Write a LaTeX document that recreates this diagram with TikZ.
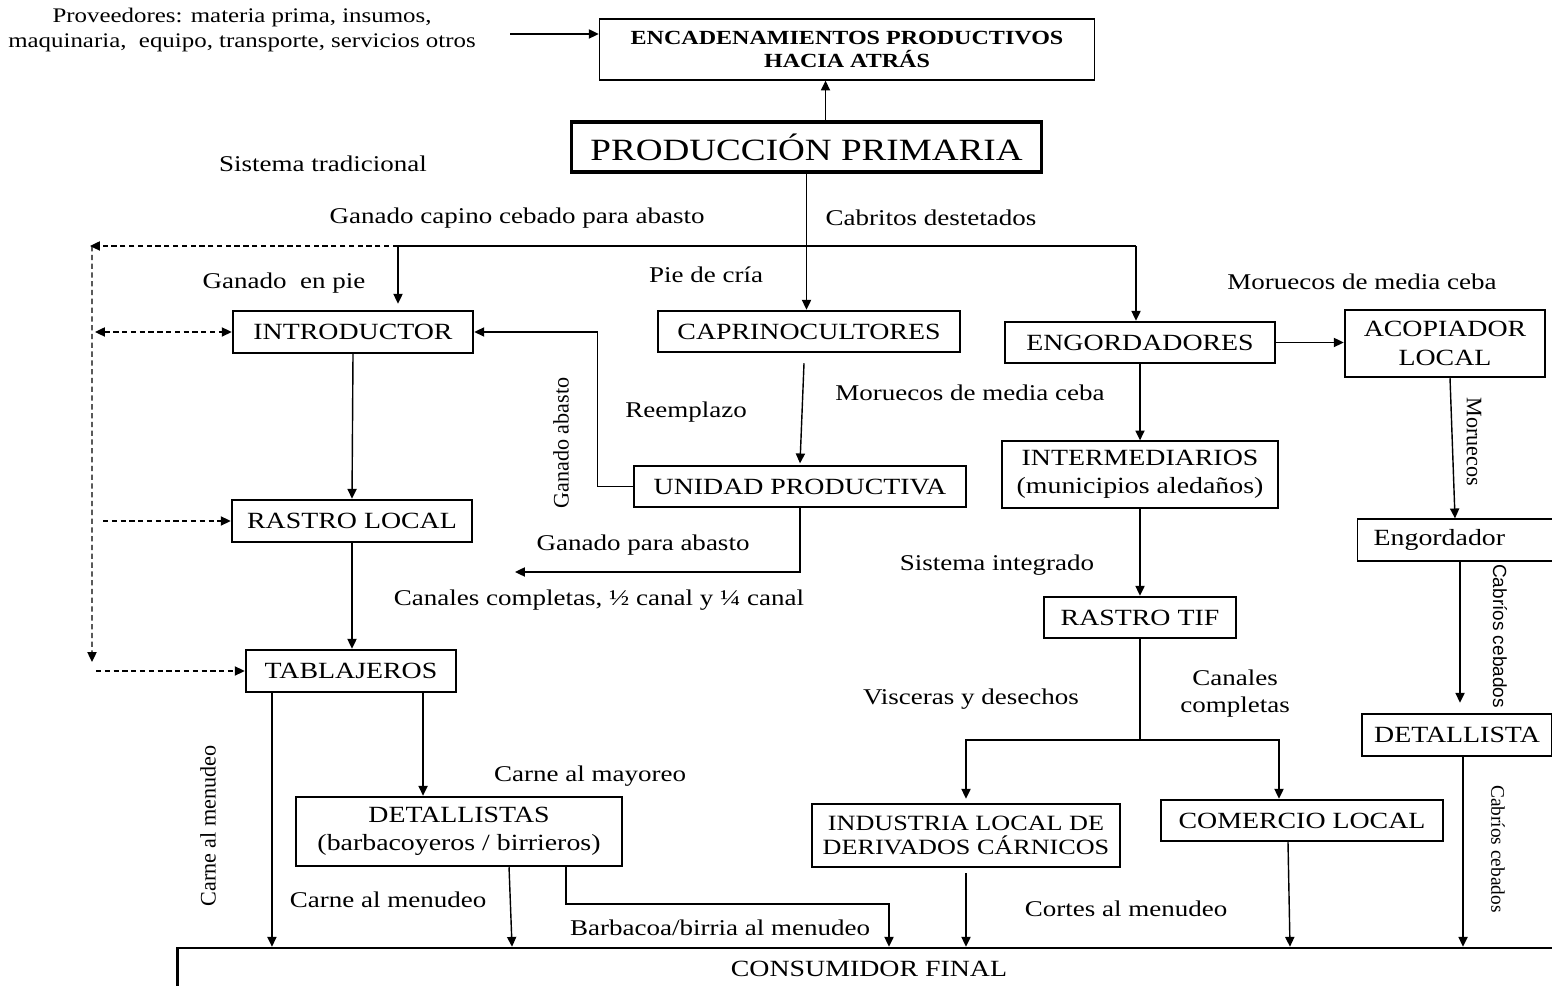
\documentclass[tikz,border=0pt]{standalone}
\usepackage{fontspec}
\setmainfont{Liberation Serif}[FakeStretch=1.2]
\newfontfamily\rotserif{Liberation Serif}
\newfontfamily\rotsans{Liberation Sans}
\usetikzlibrary{arrows.meta}

\begin{document}
\begin{tikzpicture}[x=0.01cm, y=-0.01cm,
        >={Triangle[length=2.8pt, width=2.6pt]},
        box/.style={draw, line width=0.7pt, inner sep=0pt, align=center, font=\fontsize{6.6}{8}\selectfont},
        thinbox/.style={box, line width=0.35pt},
        lbl/.style={inner sep=0pt, align=center, font=\fontsize{6.4}{7.7}\selectfont},
        vlbl/.style={inner sep=0pt, font=\rotserif\fontsize{6.3}{7.5}\selectfont},
        arr/.style={->, line width=0.4pt},
        darr/.style={arr, dash pattern=on 1.5pt off 1pt}]
        \useasboundingbox (0,0) rectangle (1552,986);
        \clip (0,0) rectangle (1552,986);

        \node[thinbox, minimum width=4.95cm, minimum height=0.61cm, font=\bfseries\fontsize{5.7}{6.6}\selectfont] (enc) at (847,49.5) {ENCADENAMIENTOS PRODUCTIVOS\\HACIA ATRÁS};
        \node[lbl, font=\fontsize{5.9}{7.1}\selectfont] (prov) at (242,30.5) {Proveedores: materia prima, insumos,\\maquinaria,\ \ equipo, transporte, servicios otros};
        \node[box, line width=0.9pt, minimum width=4.69cm, minimum height=0.50cm, font=\fontsize{8.8}{10}\selectfont] (pp) at (806.5,147) {PRODUCCIÓN PRIMARIA};

        \node[box, minimum width=2.40cm, minimum height=0.42cm] (intro) at (353,332) {INTRODUCTOR};
        \node[box, minimum width=3.02cm, minimum height=0.41cm] (caprino) at (809,331.5) {CAPRINOCULTORES};
        \node[box, minimum width=2.70cm, minimum height=0.41cm] (engord) at (1140,342.5) {ENGORDADORES};
        \node[box, minimum width=2.00cm, minimum height=0.67cm] (acop) at (1445,343.5) {ACOPIADOR\\LOCAL};
        \node[box, minimum width=2.40cm, minimum height=0.42cm] (rlocal) at (352,521) {RASTRO LOCAL};
        \node[box, minimum width=2.10cm, minimum height=0.42cm] (tabl) at (351,671) {TABLAJEROS};
        \node[thinbox, minimum width=3.32cm, minimum height=0.41cm] (unidad) at (800,486.5) {UNIDAD PRODUCTIVA};
        \node[thinbox, minimum width=2.76cm, minimum height=0.67cm] (interm) at (1140,474.5) {INTERMEDIARIOS\\(municipios aledaños)};
        \node[box, minimum width=1.92cm, minimum height=0.41cm] (rtif) at (1140,617.5) {RASTRO TIF};
        \node[thinbox, anchor=west, minimum width=2.02cm, minimum height=0.42cm, text width=1.70cm, inner xsep=0.16cm, align=left] (engr) at (1357,540) {Engordador};
        \node[box, minimum width=1.90cm, minimum height=0.42cm] (detallista) at (1457,735) {DETALLISTA};
        \node[box, minimum width=3.26cm, minimum height=0.69cm] (detallistas) at (459,831.5) {DETALLISTAS\\(barbacoyeros / birrieros)};
        \node[box, minimum width=3.08cm, minimum height=0.63cm, font=\fontsize{6.2}{6.8}\selectfont] (industria) at (966,835.5) {INDUSTRIA LOCAL DE\\DERIVADOS CÁRNICOS};
        \node[box, minimum width=2.82cm, minimum height=0.41cm] (comercio) at (1302,820.5) {COMERCIO LOCAL};
        \node[box, minimum width=13.82cm, minimum height=0.42cm] (consumer) at (869,969) {CONSUMIDOR FINAL};

        \node[lbl] (sistema) at (323,164) {Sistema tradicional};
        \node[lbl] (gcapino) at (517,218) {Ganado capino cebado para abasto};
        \node[lbl] (cabritos) at (931,218) {Cabritos destetados};
        \node[lbl] (gpie) at (284,283) {Ganado\ \ en pie};
        \node[lbl] (piecria) at (706,275) {Pie de cría};
        \node[lbl] (moruecosA) at (1362,282) {Moruecos de media ceba};
        \node[lbl] (moruecosB) at (970,393) {Moruecos de media ceba};
        \node[lbl] (reemplazo) at (686,412) {Reemplazo};
        \node[vlbl, rotate=90] (gabasto) at (561,443) {Ganado abasto};
        \node[lbl] (gpara) at (643,545) {Ganado para abasto};
        \node[lbl] (canales) at (599,600) {Canales completas, ½ canal y ¼ canal};
        \node[lbl] (sisint) at (997,565) {Sistema integrado};
        \node[lbl] (visceras) at (971,699) {Visceras y desechos};
        \node[lbl] (canalesc) at (1235,694) {Canales\\completas};
        \node[vlbl, rotate=-90] (moruecosC) at (1474,442) {Moruecos};
        \node[vlbl, rotate=-90, font=\rotsans\fontsize{5.4}{6.5}\selectfont] (cabriosA) at (1500,636) {Cabríos cebados};
        \node[vlbl, rotate=-90, font=\rotserif\fontsize{5.5}{6.5}\selectfont] (cabriosB) at (1498,849) {Cabríos cebados};
        \node[vlbl, rotate=90] (cmenudeoA) at (208,826) {Carne al menudeo};
        \node[lbl] (cmayoreo) at (590,776) {Carne al mayoreo};
        \node[lbl] (cmenudeoB) at (388,900) {Carne al menudeo};
        \node[lbl] (barbacoa) at (720,928) {Barbacoa/birria al menudeo};
        \node[lbl] (cortes) at (1126,909) {Cortes al menudeo};

        \coordinate (provA) at (510,34);
        \coordinate (splitL) at (398,246);
        \coordinate (splitR) at (1136,246);
        \coordinate (dashTL) at (90,246);
        \coordinate (dashBL) at (92,662);
        \coordinate (abastoEnd) at (515,572);
        \coordinate (tifSplit) at (1140,740);
        \coordinate (bbq) at (889,904);

        \draw[arr] (provA) -- (provA -| enc.west);
        \draw[arr] ([xshift=0.19cm]pp.north) -- ([xshift=0.19cm]pp.north |- enc.south);
        \draw[arr] (pp.south) -- (pp.south |- caprino.north);
        \draw[line width=0.4pt] (splitL) -- (splitR);
        \draw[arr] (splitL) -- ([yshift=0.06cm]splitL |- intro.north);
        \draw[arr] (splitR) -- (splitR |- engord.north);

        \draw[darr] (splitL) -- (dashTL);
        \draw[darr] ([xshift=0.02cm]dashTL) -- (dashBL);
        \draw[darr, <->] ([xshift=0.05cm]dashTL |- intro.west) -- (intro.west);
        \draw[darr] ([xshift=0.13cm]dashTL |- rlocal.west) -- (rlocal.west);
        \draw[darr] ([xshift=0.06cm]dashTL |- tabl.west) -- (tabl.west);

        \draw[arr] (intro.south) -- (rlocal.north);
        \draw[arr] (rlocal.south) -- (rlocal.south |- tabl.north);
        \draw[arr] ([yshift=-0.1cm]caprino.south -| 804,0) -- ([yshift=0.02cm]unidad.north);
        \draw[arr] (unidad.west) -- ++(-36,0) |- (intro.east);
        \draw[arr] (unidad.south) |- (abastoEnd);

        \draw[arr] (engord.east) -- (engord.east -| acop.west);
        \draw[arr] (engord.south) -- (interm.north);
        \draw[arr] (interm.south) -- (rtif.north);
        \draw[line width=0.4pt] (rtif.south) -- (tifSplit);
        \draw[arr] (tifSplit) -| ([yshift=0.04cm]industria.north);
        \draw[arr] (tifSplit) -| ([xshift=-0.23cm]comercio.north);

        \draw[arr] ([xshift=0.05cm]acop.south) -- ([xshift=0.1cm]acop.south |- engr.north);
        \draw[arr] ([xshift=0.03cm]engr.south -| detallista.north) -- ([xshift=0.03cm, yshift=0.1cm]detallista.north);
        \draw[arr] ([xshift=0.06cm]detallista.south) -- ([xshift=0.06cm]detallista.south |- consumer.north);

        \draw[arr] ([xshift=-0.79cm]tabl.south) -- ([xshift=-0.79cm]tabl.south |- consumer.north);
        \draw[arr] ([xshift=0.72cm]tabl.south) -- ([xshift=0.72cm]tabl.south |- detallistas.north);
        \draw[arr] ([xshift=0.5cm]detallistas.south) -- ([xshift=0.53cm]detallistas.south |- consumer.north);
        \draw[arr] ([xshift=1.07cm]detallistas.south) |- (bbq) -- (bbq |- consumer.north);
        \draw[arr] ([yshift=-0.05cm]industria.south) -- (industria.south |- consumer.north);
        \draw[arr] ([xshift=-0.14cm]comercio.south) -- ([xshift=-0.12cm]comercio.south |- consumer.north);
    \end{tikzpicture}
\end{document}
